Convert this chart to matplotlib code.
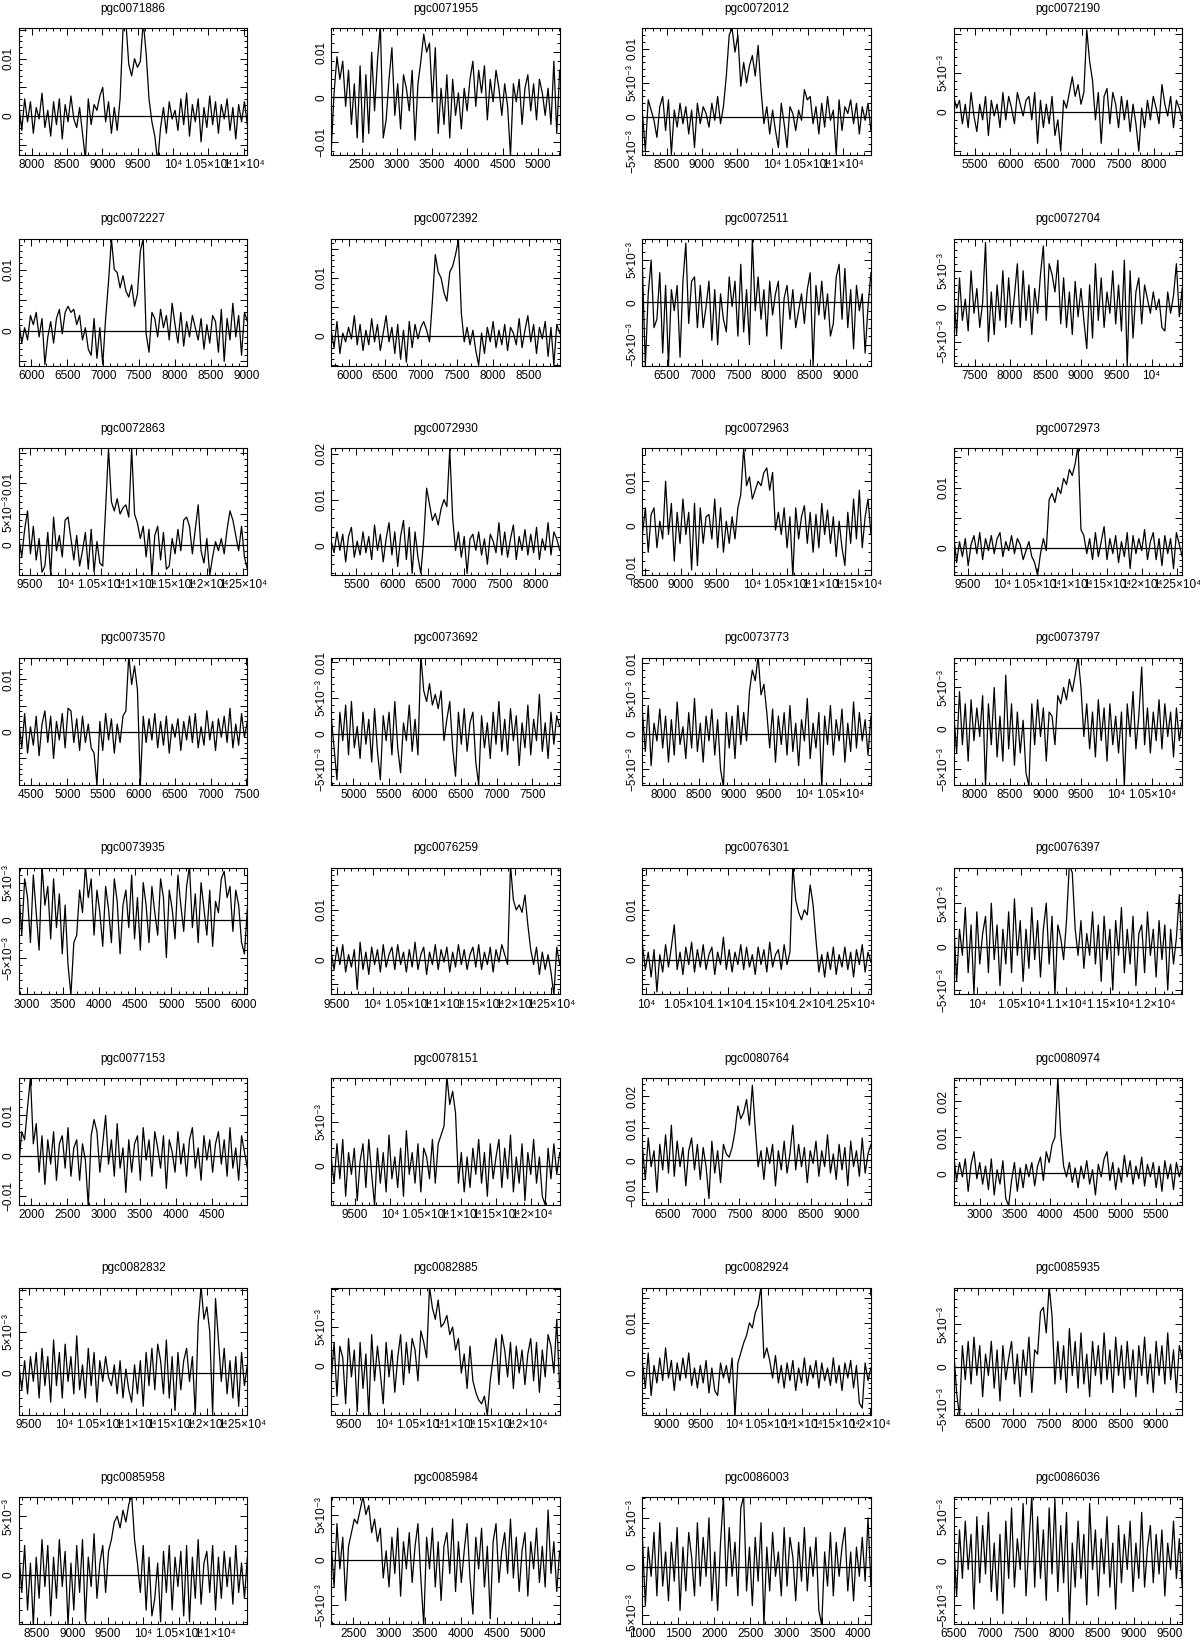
import numpy as np
import matplotlib
matplotlib.use("Agg")
import matplotlib.pyplot as plt
from matplotlib.ticker import MultipleLocator, FuncFormatter

plt.rcParams['font.family'] = ['Liberation Sans', 'DejaVu Sans']

# galaxy names, one panel each (4 columns x 8 rows)
names = ["pgc0071886", "pgc0071955", "pgc0072012", "pgc0072190",
         "pgc0072227", "pgc0072392", "pgc0072511", "pgc0072704",
         "pgc0072863", "pgc0072930", "pgc0072963", "pgc0072973",
         "pgc0073570", "pgc0073692", "pgc0073773", "pgc0073797",
         "pgc0073935", "pgc0076259", "pgc0076301", "pgc0076397",
         "pgc0077153", "pgc0078151", "pgc0080764", "pgc0080974",
         "pgc0082832", "pgc0082885", "pgc0082924", "pgc0085935",
         "pgc0085958", "pgc0085984", "pgc0086003", "pgc0086036"]

# velocity window of each spectrum (km/s)
vel_lo = [7820, 2070, 8157, 5210, 5825, 5750, 6162, 7202,
          9350, 5147, 8460, 9300, 4325, 4691, 7706, 7706,
          2890, 9420, 9960, 9740, 1826, 9170, 6147, 2626,
          9360, 9250, 8650, 6160, 8250, 2191, 1000, 6500]
vel_hi = [11050, 5310, 11400, 8390, 9010, 8930, 9353, 10432,
          12560, 8338, 11680, 12580, 7512, 7882, 10941, 10926,
          6050, 12620, 12740, 12310, 4994, 12400, 9338, 5874,
          12570, 12470, 12010, 9370, 11460, 5382, 4176, 9676]

# flux axis range (Jy)
flux_lo = [-0.0068, -0.0128, -0.0056, -0.0055, -0.0057, -0.0051, -0.0075, -0.0084,
           -0.0050, -0.0064, -0.0112, -0.0046, -0.0100, -0.0072, -0.0072, -0.0069,
           -0.0099, -0.0070, -0.0070, -0.0055, -0.0121, -0.0045, -0.0140, -0.0088,
           -0.0050, -0.0064, -0.0083, -0.0056, -0.0042, -0.0071, -0.0059, -0.0072]
flux_hi = [0.0153, 0.0153, 0.0130, 0.0107, 0.0150, 0.0167, 0.0075, 0.0095,
           0.0157, 0.0211, 0.0174, 0.0165, 0.0140, 0.0106, 0.0107, 0.0086,
           0.0070, 0.0185, 0.0185, 0.0091, 0.0192, 0.0100, 0.0257, 0.0264,
           0.0103, 0.0101, 0.0170, 0.0093, 0.0066, 0.0069, 0.0071, 0.0072]

# labelled flux ticks per panel
ylabeled = [[0, 0.01], [-0.01, 0, 0.01], [-0.005, 0, 0.005, 0.01], [0, 0.005],
            [0, 0.01], [0, 0.01], [-0.005, 0, 0.005], [-0.005, 0, 0.005],
            [0, 0.005, 0.01], [0, 0.01, 0.02], [-0.01, 0, 0.01], [0, 0.01],
            [0, 0.01], [-0.005, 0, 0.005, 0.01], [-0.005, 0, 0.005, 0.01], [-0.005, 0, 0.005],
            [-0.005, 0, 0.005], [0, 0.01], [0, 0.01], [-0.005, 0, 0.005],
            [-0.01, 0, 0.01], [0, 0.005], [-0.01, 0, 0.01, 0.02], [0, 0.01, 0.02],
            [0, 0.005], [0, 0.005], [0, 0.01], [-0.005, 0, 0.005],
            [0, 0.005], [-0.005, 0, 0.005], [-0.005, 0, 0.005], [-0.005, 0, 0.005]]

# spectra, flux in units of 1e-4 Jy, evenly spaced over the window
s01 = [20,-25,30,-10,25,-30,15,-5,40,-20, 10,-35,25,-15,30,-40,20,-10,35,-5,
       -20,15,-30,-75,30,-15,20,10,35,50, -10,25,-30,15,-25,30,150,165,90,70,
       100,85,95,165,110,30,-10,-35,-80,-20, 15,-30,25,-5,10,-25,30,-15,40,-35,
       20,-10,30,-45,15,-20,35,-15,25,-30, 20,-5,30,-25,15,-40,20,-10,25,-15]
s02 = [-120,10,90,40,80,-20,60,-60,30,-90, 70,-100,50,-80,100,-30,80,160,-90,-50,
       40,110,-40,30,-70,50,20,-30,60,-95, 30,80,140,100,120,-10,110,-80,20,-60,
       50,-90,40,-40,10,-70,20,-30,40,80, -20,60,10,70,-50,40,-10,60,20,-40,
       30,-20,-130,30,-10,40,-60,20,50,-30, 30,-50,40,10,-40,20,-60,80,-80,60]
s03 = [5,-50,25,10,-5,-30,15,30,-20,25, -55,10,-15,20,-10,15,-25,10,-45,20,
       -10,15,5,-15,20,-5,30,-10,15,60, 120,130,95,120,45,80,50,75,90,60,
       105,40,-10,15,-25,10,-20,-45,20,-10, -45,15,5,-20,10,-5,40,25,30,-10,
       15,-25,20,-15,30,-5,10,-55,25,-20, 15,5,25,-10,20,-25,15,-5,20,-20]
s04 = [20,5,15,-15,10,-20,25,-5,-25,10, -10,20,-30,15,-5,10,-20,25,-10,20,
       5,-15,25,10,-5,15,20,-10,25,-40, 15,-20,10,-15,20,-30,-10,-50,15,5,
       25,45,20,35,10,25,105,65,40,-10, 25,-40,20,30,-15,25,10,-20,20,-10,
       15,-25,10,-15,-50,5,-20,15,-10,20, 5,-15,35,10,-5,20,-20,15,5,-10]
s05 = [15,-20,5,-15,25,10,30,-10,20,-55, -10,15,-20,20,35,-5,30,40,30,35,
       10,25,-15,5,-30,-40,20,-45,5,-55, 20,80,150,100,95,70,90,65,55,75,
       40,60,130,150,-5,-35,30,20,-10,35, 5,25,-15,45,10,-20,30,-25,15,-10,
       25,5,-15,20,-30,10,-20,25,15,-35, 35,-50,20,-15,45,-10,25,-40,30,15]
s06 = [10,-20,25,-30,5,-10,15,-5,35,-15, 20,-25,10,-15,30,-10,20,-25,5,35,
       -10,15,-30,20,-40,10,-45,25,-20,20, -5,15,25,10,-10,60,140,110,100,75,
       60,110,120,140,165,40,-10,15,-15,10, -25,-50,5,-30,15,-10,25,-20,10,-15,
       20,-25,15,5,-15,30,-20,10,35,-10, 20,-30,15,-5,25,-35,15,-50,20,5]
s07 = [40,-75,10,50,-30,-20,35,-60,20,-75, 15,-10,20,-65,25,70,-25,25,30,-30,
       20,-30,-5,25,-45,15,-50,10,-20,-35, 30,-5,25,-40,45,-35,15,-50,75,-10,
       30,-20,15,-40,25,-15,10,25,-55,5, 20,-20,15,-30,-10,10,-25,15,35,-75,
       20,-15,25,-20,10,-40,-25,30,45,-20, 40,-30,15,-55,20,-10,10,-60,-5,35]
s08 = [20,-40,40,-20,10,-35,50,-10,25,-30, 5,90,-50,20,-40,30,-20,50,-30,40,
       -25,15,60,-30,50,-20,30,-40,25,-10, 45,85,-20,60,45,20,65,-25,40,-30,
       20,-40,35,-15,25,-20,-60,30,-45,60, -20,40,-30,20,-10,50,-25,30,-35,65,
       -84,50,-45,20,40,-25,30,10,-10,20, -5,10,-30,-35,20,-10,15,60,-15,25]
s09 = [10,-20,25,55,-15,30,-25,10,-45,-35, 20,-50,45,-10,15,-20,40,45,10,-25,
       15,-35,-10,20,-40,25,-45,5,-30,-35, 60,157,70,55,75,50,60,65,45,157,
       50,35,10,30,-20,25,-50,15,30,-25, 20,-40,-35,10,-15,25,-10,40,45,30,
       -15,25,65,-10,-30,10,-50,-20,5,-10, 10,-15,25,55,40,15,-10,30,-20,-40]
s10 = [10,-15,30,-10,25,-35,20,40,-25,10, -20,30,-15,20,-30,45,-10,25,-35,15,
       50,-20,30,-45,20,55,-30,40,-60,30, -25,-60,15,125,90,55,70,45,80,100,
       85,210,60,-10,30,-25,20,-60,15,25, -10,30,-20,15,-40,25,10,-15,50,-20,
       30,-25,15,45,-30,20,-10,35,-20,25, -15,40,-30,15,-10,50,-20,30,15,-10]
s11 = [-20,40,-60,25,40,-50,10,-30,100,-20, 50,-80,30,-40,60,-20,30,-100,50,-90,
       40,-40,20,25,-30,60,-50,40,-60,10, -40,20,-30,40,70,175,90,110,60,80,
       100,90,120,130,80,120,-10,30,-20,40, -50,20,-115,40,-30,20,45,-40,30,-60,
       25,-50,50,-20,35,-40,20,-70,10,-50, -90,30,-40,60,-30,80,-50,20,60,-20]
s12 = [20,-25,10,-15,15,-30,5,20,-10,25, -20,15,-5,20,-10,15,25,-15,10,-5,
       20,-10,15,5,-20,-5,10,-15,-25,-46, -10,15,-5,80,90,75,100,90,115,105,
       130,120,140,170,30,20,-10,15,-20,25, -15,10,35,-20,15,-10,20,-25,10,-15,
       25,-35,20,-10,15,-5,30,-20,10,25, -20,15,-30,20,-10,15,-35,25,5,-15]
s13 = [20,-30,35,-40,10,-25,30,-45,15,40, -20,30,-50,20,-15,35,-30,45,40,-20,
       25,-35,30,-20,15,-30,-40,-100,20,-35, 35,-15,25,-40,15,-20,30,40,145,90,
       125,80,-100,30,-20,25,-15,35,-30,20, -25,30,-40,15,-10,25,-35,20,-15,30,
       -20,35,-30,10,-25,40,-15,20,-35,25, -10,30,-20,45,-30,15,-25,35,-10,20]
s14 = [25,-20,-65,30,-10,40,-30,45,-20,10, -35,30,-15,20,-40,35,-25,-65,25,-10,
       30,-30,45,-20,-55,15,-10,40,-25,20, -30,110,60,45,70,40,55,35,60,-10,
       20,45,-20,-60,30,-15,35,-25,15,30, -40,-72,25,-20,15,-35,30,-15,45,-25,
       20,-30,35,-10,25,-45,15,-20,40,-30, 20,-10,55,-25,15,-35,30,-15,25,10]
s15 = [30,-25,40,-45,15,-10,35,-20,25,-40, 20,-30,45,-15,10,-35,30,-20,50,-25,
       15,-40,25,-10,35,-30,20,-50,-75,30, -20,25,-35,40,-15,30,-10,60,90,75,
       110,55,70,30,-20,35,-40,25,-15,30, -30,40,-25,15,-45,20,-10,50,-35,15,
       -20,30,-75,25,-15,40,-30,20,-10,35, -40,15,-25,45,-20,30,-10,20,-30,25]
s16 = [20,-30,45,-20,30,-40,35,-15,25,-10, 40,-70,30,-20,50,-35,15,-40,65,-25,
       30,-45,20,-30,10,-55,-70,30,-20,35, -10,25,-40,20,15,-20,40,30,50,35,
       60,45,65,88,50,-10,30,-25,20,-35, 35,-15,25,-40,30,-20,15,-30,20,-70,
       30,-10,45,-25,15,75,-20,25,-30,20, -15,35,-25,30,-10,20,-35,25,-15,10]
s17 = [40,-20,55,30,-30,60,10,-40,72,20, 45,-25,55,-10,35,-45,20,-60,-100,-30,
       -20,40,10,72,30,55,-20,40,10,-35, 45,15,-30,55,25,-45,20,40,-10,60,
       -25,30,-40,50,20,-30,45,10,-20,55, 30,-50,40,15,-25,60,20,-15,45,72,
       -10,35,-30,50,15,-20,40,-35,25,10, 55,65,30,45,-15,40,20,-30,-45,15]
s18 = [15,-20,25,-10,30,-25,10,-15,20,-60, 35,-20,15,-30,25,-10,20,-25,30,-15,
       10,25,-20,30,-10,15,-25,20,-15,35, -20,10,25,-30,15,-10,30,-20,20,-5,
       25,-25,15,-15,30,-10,20,-20,10,25, -15,30,-20,15,-10,25,-25,20,-5,30,
       10,-10,190,120,100,110,95,130,70,20, -10,25,-30,15,-20,10,-25,-72,25,-10]
s19 = [30,-20,15,-35,20,-65,10,-25,30,-15, 25,70,-20,15,-30,25,-10,35,-25,20,
       -15,30,-20,10,25,-30,15,-10,45,-20, 20,-25,15,-10,30,-20,25,-15,10,-30,
       25,-10,20,-25,35,-15,10,20,-20,30, -10,15,190,120,95,80,100,90,150,110,
       40,-25,10,-35,15,-20,25,-30,10,-15, 25,-20,15,-35,20,-10,30,-25,15,-5]
s20 = [30,-40,20,-10,45,-30,25,-55,40,-20, 15,35,-30,50,-15,25,-45,20,-20,40,
       -30,55,-10,30,-40,20,-25,45,-15,30, -35,20,50,-20,35,-55,25,10,-15,30,
       95,85,20,-10,30,-25,15,-10,40,-20, 25,-40,35,-15,20,-50,30,-10,45,-30,
       20,-20,35,-45,15,25,-30,40,-10,20, -35,30,-15,25,-50,20,-20,10,60,-10]
s21 = [-20,60,40,120,195,30,80,-40,50,-70, 40,-20,60,-60,30,50,-30,70,-50,20,
       40,-60,30,-10,-125,50,90,60,-40,30, 100,-20,40,-50,80,-30,20,-90,40,-40,
       30,50,-60,70,-10,40,-50,60,20,-30, 50,-80,40,10,-40,60,-20,30,-50,40,
       70,-30,20,-60,50,-10,40,-40,30,60, -20,40,-50,70,-30,20,-60,50,10,-30]
s22 = [10,-20,25,-15,30,-35,15,-10,20,-40, 5,25,-25,30,-10,-45,20,-20,15,-30,
       35,-15,10,-25,20,-35,40,-10,15,-20, 25,-30,20,10,-15,30,-20,25,35,45,
       102,70,85,60,-20,15,-30,10,-25,20, -10,30,-20,15,-35,25,-15,10,30,-25,
       20,-15,35,-30,10,-20,25,-40,15,-10, 30,-20,10,-35,-45,20,-15,25,-10,15]
s23 = [40,-60,70,-20,30,-100,50,-30,80,-40, 110,-50,60,-20,40,-80,30,70,-30,50,
       -60,40,-20,-120,60,-40,30,-70,50,20, 10,40,90,170,130,150,190,110,235,100,
       -20,30,-60,40,-10,50,-80,30,-30,60, -40,20,110,-30,50,-20,40,-70,30,-10,
       60,-50,30,-20,80,-40,20,-60,50,-30, 40,-80,60,-20,30,-50,70,-40,20,50]
s24 = [50,-20,30,-10,40,-50,25,60,-15,30, -30,20,-45,40,-60,10,-30,35,-70,-90,
       -20,30,-50,15,-40,25,-10,30,-35,20, 45,-20,60,30,80,100,265,110,20,-10,
       30,-25,15,-40,20,-15,35,-30,10,-60, 25,-10,40,60,-20,30,-45,15,-25,50,
       -10,35,-30,20,-15,45,-35,25,-10,30, -40,20,-50,35,-15,25,-45,30,-10,20]
s25 = [10,-20,15,-25,20,-10,25,-30,30,-15, 20,-35,40,-15,25,-30,35,-10,20,-25,
       45,-20,10,-30,30,-15,25,-35,15,-10, 20,-5,-15,10,-25,15,-30,5,-20,-35,
       10,-25,15,-40,25,-15,30,-20,35,15, -25,40,-30,20,-45,25,-20,15,30,-10,
       20,-50,60,105,65,80,50,-50,90,40, -10,30,-25,15,-30,20,-40,25,-15,10]
s26 = [-20,30,-40,25,10,-50,35,-15,20,-60, 30,-30,15,-65,40,-20,25,-10,-50,30,
       -15,20,-35,10,40,-25,30,-10,35,20, -20,45,30,10,102,75,60,85,50,55,
       65,40,50,20,35,-10,15,-30,25,-20, -35,-45,-50,-40,-65,-20,10,35,-25,40,
       20,-15,30,-30,25,-10,20,-25,15,35, -20,30,-35,20,-15,40,25,-10,60,-30]
s27 = [20,-30,40,-45,15,-20,30,-15,50,-10, 25,-35,20,-15,30,-10,40,-25,10,-30,
       15,-20,25,-40,10,-35,-45,20,-10,15, -20,30,-85,20,40,60,75,100,90,120,
       135,172,30,50,25,-10,35,-20,15,-30, 20,-15,25,-35,10,-20,30,-25,15,-10,
       25,-30,20,-15,10,-25,30,-20,15,-35, 20,-10,25,-30,15,-60,-70,20,-15,10]
s28 = [20,-30,-58,25,-15,30,-20,35,-10,25, -35,15,-10,30,-25,20,-40,25,-15,10,
       30,-20,15,-35,20,-10,35,-30,20,15, 65,70,40,95,60,-20,30,-15,25,-30,
       45,-10,30,-25,40,-20,15,-35,30,-10, 25,-20,40,-15,20,-30,35,-10,25,-25,
       30,-15,20,-35,25,-10,35,-20,15,-30, 30,-10,25,-20,40,-15,20,-30,25,10]
s29 = [20,-15,25,-30,10,-43,15,-20,30,-10, 25,-35,15,-20,30,-10,20,-43,10,-30,
       25,-15,30,-40,15,-10,35,-20,10,25, -15,20,30,45,50,40,55,45,60,68,
       30,10,-15,25,-30,15,-35,-20,10,-40, 20,-15,25,-30,15,-10,20,-35,25,-40,
       15,-20,30,-25,10,20,-15,25,-30,15, -20,20,-10,15,-25,25,-15,10,-20,15]
s30 = [20,-30,40,-10,25,-45,15,30,45,40, 55,70,50,60,30,45,20,35,-20,10,
       -30,25,-15,35,-40,20,-10,30,-25,15, 40,-20,-72,25,-10,35,-30,20,-45,15,
       30,-15,45,-35,20,-25,10,40,-20,-60, 25,-10,35,-30,15,-65,20,40,-25,10,
       30,-15,45,-20,25,-35,10,30,-40,20, -10,35,-25,15,-30,55,-15,20,-35,10]
s31 = [30,-40,20,-10,35,-30,45,-20,15,-35, 25,-15,40,-45,20,-25,35,10,-30,45,
       -20,30,-10,50,-35,15,-45,25,72,-20, 40,-10,25,-30,60,72,-25,20,-40,30,
       -15,45,-60,20,-25,35,-10,15,-30,40, -20,30,10,-35,25,-15,40,-25,20,-10,
       30,-45,-60,15,-20,35,-30,25,-10,20, 40,-25,15,-35,20,-10,30,-15,50,-20]
s32 = [20,-40,35,-20,45,-10,30,-55,50,-25, 40,-15,55,-35,20,-45,30,-60,45,-20,
       60,-30,25,-10,65,-40,20,74,-30,50, -20,35,-45,60,-15,70,-35,40,-25,55,
       -73,20,-30,45,-20,30,-50,65,-10,35, -40,25,-15,50,-30,20,-55,40,-25,30,
       -10,45,-35,20,-20,55,-30,15,40,-25, 30,-15,35,-40,20,-10,45,-20,25,-30]

spectra = [s01, s02, s03, s04, s05, s06, s07, s08, s09, s10, s11, s12, s13, s14, s15, s16,
           s17, s18, s19, s20, s21, s22, s23, s24, s25, s26, s27, s28, s29, s30, s31, s32]


# tick text in the "1.05x10^4" style, using unicode superscripts so labels stay aligned
def vel_label(v, pos):
    if v >= 9999.5:
        m = round(v / 1e4, 3)
        if abs(m - 1) < 1e-6:
            return '10\u2074'
        return '%g\u00d710\u2074' % m
    return '%d' % round(v)


def flux_text(v):
    sign = '\u2212' if v < 0 else ''
    if abs(v) < 1e-9:
        return '0'
    if abs(abs(v) - 0.005) < 1e-9:
        return sign + '5\u00d710\u207b\u00b3'
    return sign + '%g' % abs(v)


def make_flux_label(shown):
    def f(v, pos):
        for s in shown:
            if abs(v - s) < 1e-9:
                return flux_text(s)
        return ''
    return f


W, H = 1145.0, 1568.0
col_left = [18, 316, 613, 910]
row_top = [27, 228, 428, 628, 828, 1029, 1229, 1429]
ax_w, ax_h = 218, 121

fig = plt.figure(figsize=(12, 16.43), dpi=100)

for k in range(32):
    r, c = divmod(k, 4)
    ax = fig.add_axes([col_left[c] / W, 1 - (row_top[r] + ax_h) / H, ax_w / W, ax_h / H])
    y = np.array(spectra[k]) * 1e-4
    v = np.linspace(vel_lo[k], vel_hi[k], len(y))
    ax.plot(v, y, color='black', lw=0.9)
    ax.axhline(0, color='black', lw=0.9)
    ax.set_xlim(vel_lo[k], vel_hi[k])
    ax.set_ylim(flux_lo[k], flux_hi[k])

    ax.xaxis.set_major_locator(MultipleLocator(500))
    ax.xaxis.set_minor_locator(MultipleLocator(100))
    ax.xaxis.set_major_formatter(FuncFormatter(vel_label))
    big = (0.02 in ylabeled[k]) or (-0.01 in ylabeled[k])
    step = 0.01 if big else 0.005
    ax.yaxis.set_major_locator(MultipleLocator(step))
    ax.yaxis.set_minor_locator(MultipleLocator(step / 5))
    ax.yaxis.set_major_formatter(FuncFormatter(make_flux_label(ylabeled[k])))

    ax.tick_params(which='both', direction='in', top=True, right=True, width=0.7,
                   labelsize=8.5, pad=3)
    ax.tick_params(which='major', length=5)
    ax.tick_params(which='minor', length=2.5)
    ax.tick_params(axis='y', labelrotation=90)
    for lab in ax.get_yticklabels():
        lab.set_va('center')
    for sp in ax.spines.values():
        sp.set_linewidth(0.8)
    ax.set_title(names[k], fontsize=8.5, pad=12)

fig.savefig("out.png", dpi=100)
